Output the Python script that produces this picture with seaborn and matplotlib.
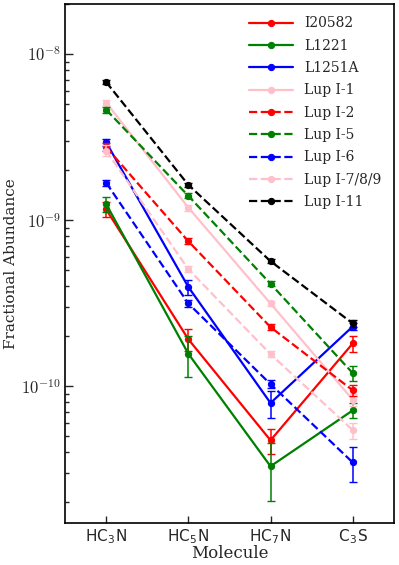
import numpy as np
import pandas as pd
import matplotlib
matplotlib.use("Agg")
import matplotlib.pyplot as plt
from matplotlib.ticker import LogLocator, NullFormatter, FuncFormatter
import seaborn as sns

# ==========================================================
# Data
# ==========================================================

molecules = ["HC$_\\mathregular{3}$N", "HC$_\\mathregular{5}$N",
             "HC$_\\mathregular{7}$N", "C$_\\mathregular{3}$S"]

sources = ["I20582", "L1221", "L1251A", "Lup I-1", "Lup I-2",
           "Lup I-5", "Lup I-6", "Lup I-7/8/9", "Lup I-11"]

i20582 = [1.16e-9, 1.92e-10, 4.73e-11, 1.81e-10]
l1221 = [1.25e-9, 1.57e-10, 3.30e-11, 7.16e-11]
l1251a = [2.94e-9, 3.96e-10, 7.93e-11, 2.29e-10]
lup1 = [5.10e-9, 1.19e-9, 3.15e-10, 8.30e-11]
lup2 = [2.75e-9, 7.46e-10, 2.27e-10, 9.46e-11]
lup5 = [4.62e-9, 1.40e-9, 4.14e-10, 1.20e-10]
lup6 = [1.68e-9, 3.15e-10, 1.03e-10, 3.48e-11]
lup789 = [2.62e-9, 5.07e-10, 1.56e-10, 5.45e-11]
lup11 = [6.78e-9, 1.63e-9, 5.66e-10, 2.39e-10]

i20582_err = [0.12e-9, 0.30e-10, 0.80e-11, 0.20e-10]
l1221_err = [0.13e-9, 0.44e-10, 1.27e-11, 0.75e-11]
l1251a_err = [0.15e-9, 0.40e-10, 1.50e-11, 0.10e-10]
lup1_err = [0.20e-9, 0.05e-9, 0.10e-10, 0.70e-11]
lup2_err = [0.15e-9, 0.30e-10, 0.10e-10, 0.70e-11]
lup5_err = [0.20e-9, 0.05e-9, 0.15e-10, 0.12e-10]
lup6_err = [0.07e-9, 0.15e-10, 0.06e-10, 0.84e-11]
lup789_err = [0.20e-9, 0.20e-10, 0.06e-10, 0.60e-11]
lup11_err = [0.15e-9, 0.05e-9, 0.15e-10, 0.10e-10]

values = [i20582, l1221, l1251a, lup1, lup2, lup5, lup6, lup789, lup11]
errors = [i20582_err, l1221_err, l1251a_err, lup1_err, lup2_err,
          lup5_err, lup6_err, lup789_err, lup11_err]

colors = ["red", "green", "blue", "pink", "red", "green", "blue", "pink", "black"]
linestyles = ["-", "-", "-", "-", "--", "--", "--", "--", "--"]

# ==========================================================
# Plot
# ==========================================================

sns.set_style("ticks")
plt.rcParams["font.family"] = ["DejaVu Serif"]
plt.rcParams["mathtext.fontset"] = "cm"
plt.rcParams["xtick.direction"] = "in"
plt.rcParams["ytick.direction"] = "in"

fig = plt.figure(figsize=(3.99, 5.65), dpi=100)
ax = fig.add_axes([0.163, 0.074, 0.824, 0.919])

xpos = np.arange(len(molecules))

for name, vals, errs, color, ls in zip(sources, values, errors, colors, linestyles):
    df = pd.DataFrame({"x": xpos, "abundance": vals})
    sns.lineplot(
        data=df, x="x", y="abundance", ax=ax,
        color=color, linestyle=ls, linewidth=1.6,
        marker="o", markersize=4.5, markeredgecolor=color,
        label=name,
    )
    ax.errorbar(xpos, vals, yerr=errs, fmt="none", ecolor=color,
                elinewidth=1.1, capsize=3, capthick=1)

ax.set_yscale("log")
ax.set_ylim(1.5e-11, 2.0e-8)
ax.set_xlim(-0.5, 3.5)
ax.yaxis.set_major_locator(LogLocator(base=10))
ax.yaxis.set_major_formatter(
    FuncFormatter(lambda v, pos: "$10^{%d}$" % int(round(np.log10(v))))
)
ax.yaxis.set_minor_locator(LogLocator(base=10, subs=np.arange(2, 10)))
ax.yaxis.set_minor_formatter(NullFormatter())

ax.set_xticks(xpos)
ax.set_xticklabels(molecules, fontfamily="DejaVu Sans", fontsize=11)
ax.tick_params(axis="y", which="major", labelsize=12, length=6, width=1, pad=3)
ax.tick_params(axis="y", which="minor", length=3, width=1)
ax.tick_params(axis="x", length=5, width=1, pad=3)
ax.tick_params(top=False, right=False)

for spine in ax.spines.values():
    spine.set_visible(True)
    spine.set_linewidth(1.2)
    spine.set_color("black")

ax.set_xlabel("Molecule", fontsize=12, labelpad=-1)
ax.set_ylabel("Fractional Abundance", fontsize=11)
ax.yaxis.set_label_coords(-0.143, 0.5)

ax.legend(loc="upper right", frameon=False, fontsize=10, numpoints=1,
          handlelength=3.2, labelspacing=0.6)

fig.savefig("out.png", dpi=100)
